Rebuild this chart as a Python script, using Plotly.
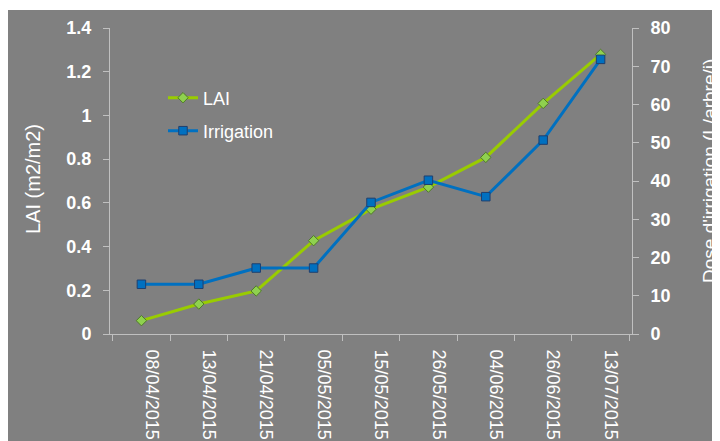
import plotly.graph_objects as go

dates = ["08/04/2015", "13/04/2015", "21/04/2015", "05/05/2015", "15/05/2015",
         "26/05/2015", "04/06/2015", "26/06/2015", "13/07/2015"]
lai = [0.061, 0.137, 0.197, 0.427, 0.571, 0.672, 0.808, 1.055, 1.279]
irrigation = [13.0, 13.0, 17.25, 17.25, 34.4, 40.2, 35.9, 50.7, 71.8]

lai_ticks = [0, 0.2, 0.4, 0.6, 0.8, 1, 1.2, 1.4]
lai_ticktext = ["0", "0.2", "0.4", "0.6", "0.8", "1", "1.2", "1.4"]
irr_ticks = [0, 10, 20, 30, 40, 50, 60, 70, 80]

BG = "#808080"
AX = "#c0c0c0"
FONT = "Liberation Sans, Arial, sans-serif"

# page offset of the figure (body margin)
OX, OY = 8, 8
# plot area in page pixels
PL, PR, PT, PB = 110, 632, 28, 334
L, R, T, B = PL - OX, PR - OX, PT - OY, PB - OY
W, H = 720, 441
pw, ph = R - L, B - T

def px_x(p):  # page x -> paper
    return (p - OX - L) / pw

def px_y(p):  # page y -> paper
    return (B - (p - OY)) / ph

fig = go.Figure()
fig.add_trace(go.Scatter(
    x=dates, y=lai, name="LAI", mode="lines+markers",
    line=dict(color="#99cc00", width=3),
    marker=dict(symbol="diamond", size=8, color="#8fd14f",
                line=dict(color="#4f7a28", width=1)),
    yaxis="y", legend="legend", showlegend=True))
fig.add_trace(go.Scatter(
    x=dates, y=irrigation, name="Irrigation", mode="lines+markers",
    line=dict(color="#0070c0", width=3),
    marker=dict(symbol="square", size=8.5, color="#0070c0",
                line=dict(color="#1f3f6e", width=1)),
    yaxis="y2", legend="legend2", showlegend=True))

fig.update_layout(
    width=W, height=H,
    margin=dict(l=L, r=W - R, t=T, b=H - B, pad=0, autoexpand=False),
    showlegend=True,
    paper_bgcolor=BG, plot_bgcolor=BG,
    font=dict(family=FONT, color="white"),
    xaxis=dict(
        type="category", showgrid=False, zeroline=False,
        showline=True, linecolor=AX, linewidth=1,
        ticks="outside", tickson="boundaries", ticklen=6, tickcolor=AX,
        tickangle=90, tickfont=dict(size=18, color="white"),
        ticklabelshift=10, ticklabelstandoff=11,
    ),
    yaxis=dict(
        range=[0, 1.4], tickvals=lai_ticks, ticktext=lai_ticktext,
        showgrid=False, zeroline=False,
        showline=True, linecolor=AX, linewidth=1,
        ticks="outside", ticklen=6, tickcolor=AX,
        tickfont=dict(size=18, color="white", weight="bold"),
        ticklabelstandoff=8,
    ),
    yaxis2=dict(
        range=[0, 80], tickvals=irr_ticks, overlaying="y", side="right",
        showgrid=False, zeroline=False,
        showline=True, linecolor=AX, linewidth=1,
        ticks="outside", ticklen=6, tickcolor=AX,
        tickfont=dict(size=18, color="white", weight="bold"),
        ticklabelstandoff=8,
    ),
    legend=dict(x=px_x(163), y=px_y(98), xanchor="left", yanchor="middle",
                bgcolor="rgba(0,0,0,0)", font=dict(size=18, color="white")),
    legend2=dict(x=px_x(163), y=px_y(131), xanchor="left", yanchor="middle",
                 bgcolor="rgba(0,0,0,0)", font=dict(size=18, color="white")),
    shapes=[
        dict(type="rect", xref="paper", yref="paper",
             x0=px_x(0), x1=px_x(730), y0=px_y(10), y1=px_y(0),
             fillcolor="white", line=dict(width=0), layer="above"),
    ],
    annotations=[
        dict(text="LAI (m2/m2)", xref="paper", yref="paper",
             x=px_x(33), y=px_y(179), xanchor="center", yanchor="middle",
             textangle=-90, showarrow=False,
             font=dict(size=20, color="white")),
        dict(text="Dose d'irrigation (L/arbre/j)", xref="paper", yref="paper",
             x=px_x(709), y=px_y(171), xanchor="center", yanchor="middle",
             textangle=-90, showarrow=False,
             font=dict(size=19, color="white")),
    ],
)

fig.write_html("out.html")
